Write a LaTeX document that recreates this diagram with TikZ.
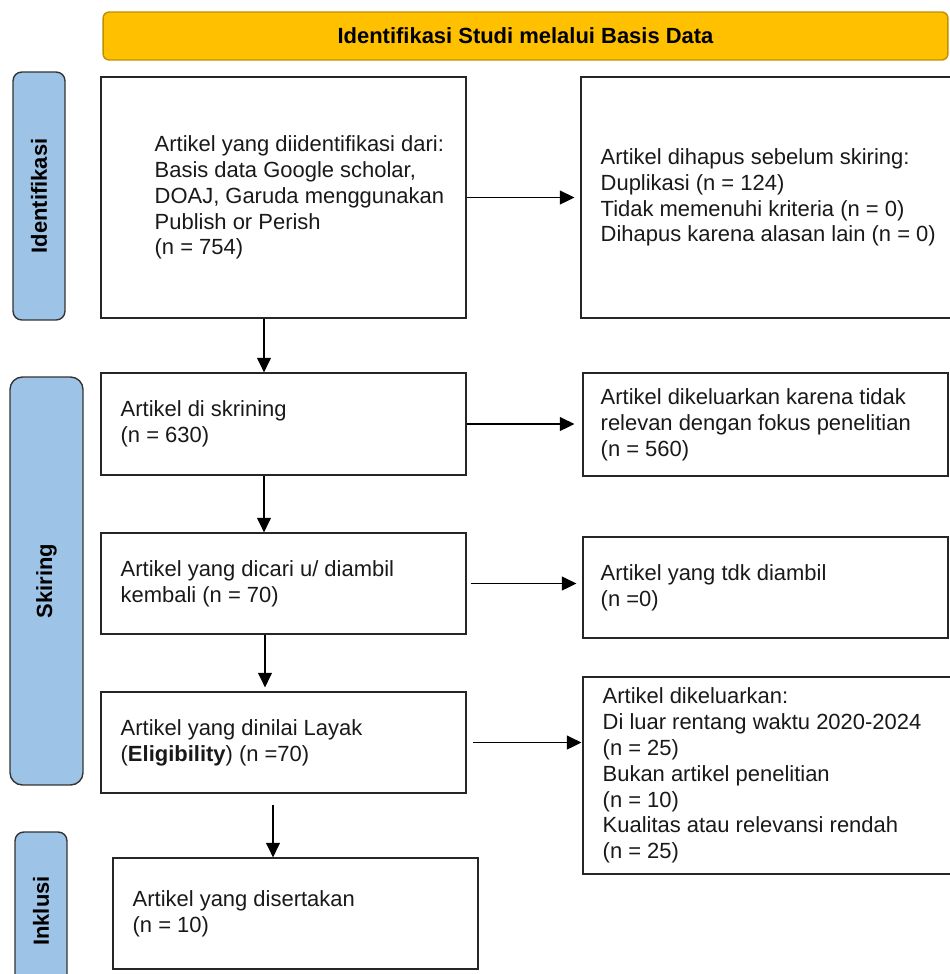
\documentclass[tikz,border=0pt]{standalone}
\usepackage{fontspec}
\setmainfont{Liberation Sans}
\usetikzlibrary{arrows.meta, calc}
\definecolor{hdrfill}{HTML}{FFC000}
\definecolor{hdrline}{HTML}{BF9000}
\definecolor{phasefill}{HTML}{9DC3E6}

\begin{document}
\begin{tikzpicture}[
    x=0.02cm, y=-0.02cm,
    font=\fontsize{12.5}{14.7}\selectfont,
    >={Triangle[length=2.9mm, width=2.8mm]},
    box/.style={rectangle, draw=black!85, line width=0.8pt, inner sep=0pt},
    txt/.style={anchor=west, align=left, inner sep=0pt, text=black!90},
    phase/.style={rectangle, rounded corners=5pt, draw=black!80, fill=phasefill, line width=0.8pt,
      rotate=90, inner sep=0pt, font=\fontsize{12.5}{14.7}\selectfont\bfseries},
    hdr/.style={rectangle, rounded corners=3.5pt, draw=hdrline, fill=hdrfill, line width=0.8pt,
      minimum width=16.9cm, minimum height=0.96cm, font=\fontsize{12.5}{14.7}\selectfont\bfseries},
    flow/.style={->, draw=black, line width=0.8pt},
  ]
  \useasboundingbox (0,0) rectangle (950,974);
  % ------------------------------------------------------------------ header and phase labels
  \node[hdr] (title) at (525.5,36) {Identifikasi Studi melalui Basis Data};
  \node[phase, minimum width=4.96cm, minimum height=1.04cm] (phid) at (39,196) {Identifikasi};
  \node[phase, rounded corners=7pt, minimum width=8.16cm, minimum height=1.46cm] (phsk) at (46.5,581) {Skiring};
  \node[phase, minimum width=3.16cm, minimum height=1.04cm] (phin) at (41,911) {Inklusi};
  % ------------------------------------------------------------------ identification
  \node[box, minimum width=7.3cm, minimum height=4.82cm] (idbox) at (283.5,197.5) {};
  \node[txt] (idtxt) at ($(idbox.west)+(54,0)$) {Artikel yang diidentifikasi dari:\\Basis data Google scholar,\\DOAJ, Garuda menggunakan\\Publish or Perish\\(n = 754)};
  \node[box, minimum width=7.48cm, minimum height=4.82cm] (rmbox) at (768,197.5) {};
  \node[txt] (rmtxt) at ($(rmbox.west)+(20,0)$) {Artikel dihapus sebelum skiring:\\Duplikasi (n = 124)\\Tidak memenuhi kriteria (n = 0)\\Dihapus karena alasan lain (n = 0)};
  % ------------------------------------------------------------------ screening
  \node[box, minimum width=7.3cm, minimum height=2.04cm] (scrbox) at (283.5,424) {};
  \node[txt] (scrtxt) at ($(scrbox.west)+(20,0)$) {Artikel di skrining\\(n = 630)};
  \node[box, minimum width=7.3cm, minimum height=2.06cm] (exbox) at (765.5,424.5) {};
  \node[txt] (extxt) at ($(exbox.west)+(18,0)$) {Artikel dikeluarkan karena tidak\\relevan dengan fokus penelitian\\(n = 560)};
  \node[box, minimum width=7.3cm, minimum height=2.02cm] (rtbox) at (283.5,583.5) {};
  \node[txt] (rttxt) at ($(rtbox.west)+(20,0)$) {Artikel yang dicari u/ diambil\\kembali (n = 70)};
  \node[box, minimum width=7.3cm, minimum height=2.02cm] (nrbox) at (765.5,587.5) {};
  \node[txt] (nrtxt) at ($(nrbox.west)+(18,0)$) {Artikel yang tdk diambil\\(n =0)};
  \node[box, minimum width=7.3cm, minimum height=2.02cm] (elbox) at (283.5,742.5) {};
  \node[txt] (eltxt) at ($(elbox.west)+(20,0)$) {Artikel yang dinilai Layak\\(\textbf{Eligibility}) (n =70)};
  \node[box, minimum width=7.44cm, minimum height=3.94cm] (rjbox) at (769,775.5) {};
  \node[txt] (rjtxt) at ($(rjbox.west)+(20,0)$) {Artikel dikeluarkan:\\Di luar rentang waktu 2020-2024\\(n = 25)\\Bukan artikel penelitian\\(n = 10)\\Kualitas atau relevansi rendah\\(n = 25)};
  % ------------------------------------------------------------------ included
  \node[box, minimum width=7.3cm, minimum height=2.22cm] (inbox) at (295.5,913.5) {};
  \node[txt] (intxt) at ($(inbox.west)+(20,0)$) {Artikel yang disertakan\\(n = 10)};
  % ------------------------------------------------------------------ arrows
  \draw[flow, shorten >=0.12cm] (idbox.east) -- (rmbox.west);
  \draw[flow] ($(idbox.south)+(-19.5,0)$) -- ($(scrbox.north)+(-19.5,0)$);
  \draw[flow, shorten >=0.16cm] (scrbox.east) -- (exbox.west |- scrbox.east);
  \draw[flow] ($(scrbox.south)+(-19.5,0)$) -- ($(rtbox.north)+(-19.5,0)$);
  \draw[flow, shorten <=0.08cm, shorten >=0.12cm] (rtbox.east) -- (nrbox.west |- rtbox.east);
  \draw[flow, shorten >=0.08cm] ($(rtbox.south)+(-18.5,0)$) -- ($(elbox.north)+(-18.5,0)$);
  \draw[flow, shorten <=0.12cm, shorten >=0.02cm] (elbox.east) -- (rjbox.west |- elbox.east);
  \draw[flow, shorten <=0.22cm] ($(elbox.south)+(-10.5,0)$) -- ($(inbox.north)+(-22.5,0)$);
\end{tikzpicture}
\end{document}
